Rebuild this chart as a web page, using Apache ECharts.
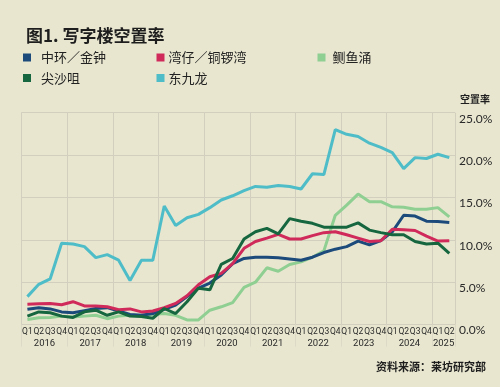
<!DOCTYPE html>
<html><head><meta charset="utf-8">
<script src="https://cdn.jsdelivr.net/npm/echarts@6/dist/echarts.min.js"></script>
<style>html,body{margin:0;padding:0;background:#e8e6cf}#c{width:500px;height:387px}</style>
</head><body><div id="c"></div>
<script>
// ---- data ----
const years = ['2016','2017','2018','2019','2020','2021','2022','2023','2024','2025'];
const quartersPerYear = [4,4,4,4,4,4,4,4,4,2];
const quarterNames = ['Q1','Q2','Q3','Q4'];
const yTicks = [0, 5, 10, 15, 20, 25];
const yAxisTitle = '空置率';
const sourceNote = '资料来源：莱坊研究部';

const seriesNames = ['中环／金钟','湾仔／铜锣湾','鲗鱼涌','尖沙咀','东九龙'];
const central = [1.8,2.0,1.85,1.5,1.4,1.65,1.9,2.0,1.6,1.2,1.1,1.3,1.8,2.3,3.3,4.3,4.9,5.85,7.2,7.8,7.95,7.95,7.9,7.75,7.6,7.95,8.5,8.9,9.2,9.85,9.4,9.9,10.95,12.9,12.8,12.2,12.15,12.05];
const wanchai = [2.4,2.45,2.5,2.35,2.7,2.2,2.2,2.1,1.75,1.85,1.5,1.6,2.0,2.5,3.4,4.7,5.65,6.05,7.2,9.0,9.8,10.2,10.65,10.1,10.1,10.5,10.85,10.95,10.6,10.2,9.8,9.9,11.25,11.2,11.1,10.45,9.85,9.9];
const quarryBay = [0.6,0.8,0.85,1.0,0.9,1.0,1.1,0.7,1.0,1.1,1.1,1.2,1.3,1.1,0.55,0.55,1.7,2.1,2.6,4.4,5.0,6.7,6.3,7.1,7.4,7.95,8.7,12.9,14.1,15.4,14.5,14.5,13.9,13.85,13.6,13.6,13.8,12.7];
const tst = [1.0,1.5,1.4,1.0,0.85,1.5,1.7,1.1,1.5,1.0,0.95,0.75,1.9,1.3,2.7,4.3,4.1,7.1,7.8,10.1,10.95,11.35,10.7,12.5,12.2,11.95,11.5,11.5,11.5,12.0,11.15,10.85,10.6,10.6,9.8,9.5,9.6,8.4];
const kowloonEast = [3.3,4.75,5.4,9.6,9.5,9.2,7.9,8.25,7.6,5.2,7.6,7.6,14.0,11.7,12.6,13.0,13.8,14.7,15.2,15.8,16.3,16.2,16.4,16.3,16.0,17.8,17.7,23.0,22.45,22.2,21.4,20.9,20.3,18.4,19.7,19.6,20.1,19.7];

// ---- derived categories ----
const categories = [];
const yearCenters = {};
let pos = 0;
years.forEach((y, i) => {
  for (let q = 0; q < quartersPerYear[i]; q++) categories.push(y + ' ' + quarterNames[q]);
  yearCenters[pos + quartersPerYear[i] / 2] = y;
  pos += quartersPerYear[i];
});
const yearStarts = new Set();
let s = 0; quartersPerYear.forEach(n => { yearStarts.add(s); s += n; }); yearStarts.add(s);

const colors = ['#1b4a7b','#d02a5b','#8fcf92','#16673f','#4fbdc8'];
const values = [central, wanchai, quarryBay, tst, kowloonEast];

const grid = '#d2cfbf';
const chart = echarts.init(document.getElementById('c'));

const legendPos = [
  {left: 23, top: 50.5, pad: 10},
  {left: 156.5, top: 50.5, pad: 4},
  {left: 317.5, top: 50.5, pad: 7},
  {left: 23, top: 71, pad: 10},
  {left: 156.5, top: 71, pad: 4}
];

chart.setOption({
  backgroundColor: '#e8e6cf',
  animation: false,
  title: {
    text: '图1. 写字楼空置率', left: 21, top: 22,
    textStyle: {fontFamily: 'Noto Sans CJK SC', fontWeight: 'bold', fontSize: 17, color: '#1e1e1e'}
  },
  graphic: [{
    type: 'text', right: 14, top: 361,
    style: {text: sourceNote, font: 'bold 11px "Noto Sans CJK SC"', fill: '#1e1e1e'}
  }, {
    type: 'text', left: 460, top: 94,
    style: {text: yAxisTitle, font: 'bold 10px "Noto Sans CJK SC"', fill: '#1e1e1e'}
  }],
  legend: seriesNames.map((n, i) => ({
    data: [n], left: legendPos[i].left, top: legendPos[i].top,
    icon: 'rect', itemWidth: 8, itemHeight: 8, itemGap: 0, padding: 0,
    textStyle: {fontFamily: 'Noto Sans CJK SC', fontSize: 13, color: '#222', lineHeight: 14,
      padding: [0, 0, 0, legendPos[i].pad - 5]}
  })),
  grid: {left: 21.7, right: 45, top: 112.7, bottom: 62.4, containLabel: false},
  xAxis: [{
    type: 'category', data: categories, boundaryGap: true,
    axisLine: {show: true, lineStyle: {color: grid}},
    axisTick: {show: true, length: 22, interval: (i) => yearStarts.has(i), lineStyle: {color: '#dcd9c6'}},
    splitLine: {show: true, interval: (i) => yearStarts.has(i), lineStyle: {color: grid, width: 1}},
    axisLabel: {interval: 0, margin: 3, fontFamily: 'Roboto', fontSize: 8.5, color: '#2a2a2a',
      formatter: v => v.split(' ')[1]}
  }, {
    type: 'value', min: 0, max: categories.length, interval: 1, position: 'bottom', offset: 11,
    axisLine: {show: false}, axisTick: {show: false}, splitLine: {show: false},
    axisLabel: {margin: 3, fontFamily: 'Roboto', fontSize: 9.5, color: '#2a2a2a',
      showMinLabel: true, showMaxLabel: true,
      formatter: v => yearCenters[v] || ''}
  }],
  yAxis: {
    type: 'value', position: 'right', min: yTicks[0], max: yTicks[yTicks.length - 1], interval: yTicks[1] - yTicks[0],
    axisLine: {show: true, lineStyle: {color: grid}},
    axisTick: {show: false},
    splitLine: {show: true, lineStyle: {color: grid, width: 1}},
    axisLabel: {margin: 4, verticalAlign: 'top', fontFamily: 'Lato', fontSize: 12, color: '#2a2a2a',
      formatter: v => v.toFixed(1) + '%'}
  },
  series: seriesNames.map((n, i) => ({
    name: n, type: 'line', data: values[i], symbol: 'none', smooth: false,
    lineStyle: {width: 3, color: colors[i]}, itemStyle: {color: colors[i]},
    z: [2, 3, 1, 4, 2][i]
  }))
});
</script></body></html>
